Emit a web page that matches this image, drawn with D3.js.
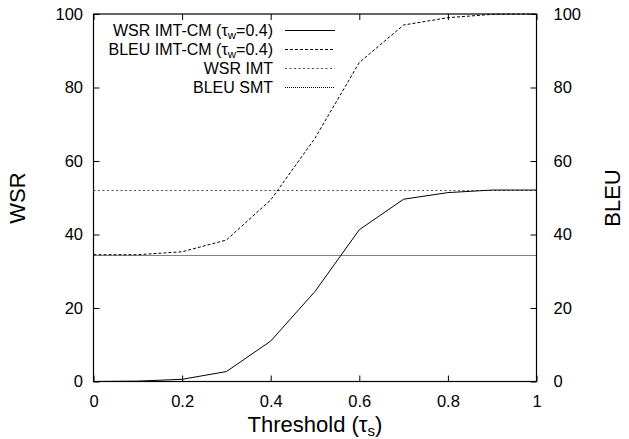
<!DOCTYPE html>
<html>
<head>
<meta charset="utf-8">
<script src="https://cdn.jsdelivr.net/npm/d3@7"></script>
<style>
body { margin: 0; background: #fff; }
svg { font-family: "Liberation Sans", Arial, Helvetica, sans-serif; }
</style>
</head>
<body>
<div id="chart"></div>
<script>
var thresholds = [0, 0.1, 0.2, 0.3, 0.4, 0.5, 0.6, 0.7, 0.8, 0.9, 1];
var wsrImtCm = [0, 0.1, 0.6, 2.7, 11.0, 24.5, 41.3, 49.6, 51.4, 52.1, 52.1];
var bleuImtCm = [34.5, 34.5, 35.3, 38.5, 49.4, 66.2, 86.8, 97.0, 99.0, 99.9, 100];
var wsrImt = 52.1;
var bleuSmt = 34.5;
var xTicks = [0, 0.2, 0.4, 0.6, 0.8, 1];
var yTicks = [0, 20, 40, 60, 80, 100];

function init() {
    var w = 629;
    var h = 439;
    var left = 93.5, right = 536.5, top = 14, bottom = 381.5;

    var svg = d3.select("#chart")
        .append("svg")
        .attr("width", w)
        .attr("height", h);

    var xScale = d3.scaleLinear().domain([0, 1]).range([left, right]);
    var yScale = d3.scaleLinear().domain([0, 100]).range([bottom, top]);
    var snap = function(v){ return Math.round(v) + 0.5; };

    // axes, ticks pointing inward
    var bx = svg.append("g")
        .attr("transform", "translate(0," + bottom + ")")
        .call(d3.axisBottom(xScale).tickValues(xTicks).tickSize(-6).tickPadding(13.5)
            .tickFormat(function(d){ return d3.format("")(d); }));
    var tx = svg.append("g")
        .attr("transform", "translate(0," + top + ")")
        .call(d3.axisTop(xScale).tickValues(xTicks).tickSize(-6).tickFormat(""));
    var ly = svg.append("g")
        .attr("transform", "translate(" + left + ",0)")
        .call(d3.axisLeft(yScale).tickValues(yTicks).tickSize(-6).tickPadding(10.5));
    var ry = svg.append("g")
        .attr("transform", "translate(" + right + ",0)")
        .call(d3.axisRight(yScale).tickValues(yTicks).tickSize(-6).tickPadding(17));

    [bx, tx, ly, ry].forEach(function(g){
        g.select(".domain").remove();
        g.selectAll("text").attr("font-size", "16.5px").attr("fill", "#000")
            .attr("font-family", "Liberation Sans, Arial, sans-serif");
        g.selectAll("line").attr("stroke", "#000");
    });

    svg.append("rect")
        .attr("x", left).attr("y", top)
        .attr("width", right - left).attr("height", bottom - top)
        .attr("fill", "none").attr("stroke", "#000").attr("stroke-width", 1.2);

    var line = d3.line()
        .x(function(d){ return xScale(d[0]); })
        .y(function(d){ return yScale(d[1]); });

    // constant reference lines
    svg.append("line")
        .attr("x1", xScale(0)).attr("x2", xScale(1))
        .attr("y1", snap(yScale(wsrImt))).attr("y2", snap(yScale(wsrImt)))
        .attr("stroke", "#555").attr("stroke-width", 1).attr("stroke-dasharray", "2,2.5");
    svg.append("line")
        .attr("x1", xScale(0)).attr("x2", xScale(1))
        .attr("y1", snap(yScale(bleuSmt))).attr("y2", snap(yScale(bleuSmt)))
        .attr("stroke", "#000").attr("stroke-width", 1).attr("stroke-dasharray", "1,1");

    svg.append("path")
        .datum(d3.zip(thresholds, wsrImtCm))
        .attr("d", line)
        .attr("fill", "none").attr("stroke", "#000").attr("stroke-width", 1);
    svg.append("path")
        .datum(d3.zip(thresholds, bleuImtCm))
        .attr("d", line)
        .attr("fill", "none").attr("stroke", "#000").attr("stroke-width", 1)
        .attr("stroke-dasharray", "3,2");

    // legend
    var legend = [
        {main: "WSR IMT-CM (τ", sub: "w", tail: "=0.4)", dash: null, color: "#000"},
        {main: "BLEU IMT-CM (τ", sub: "w", tail: "=0.4)", dash: "3,2", color: "#000"},
        {main: "WSR IMT", dash: "2,2.5", color: "#555"},
        {main: "BLEU SMT", dash: "1,1", color: "#000"}
    ];
    var lg = svg.selectAll(".leg").data(legend).enter().append("g")
        .attr("class", "leg")
        .attr("transform", function(d, i){ return "translate(0," + (30 + i * 19) + ")"; });
    var lt = lg.append("text")
        .attr("x", 273).attr("y", 6)
        .attr("text-anchor", "end")
        .attr("font-size", "16px");
    lt.append("tspan").text(function(d){ return d.main; });
    lt.filter(function(d){ return d.sub; }).append("tspan")
        .attr("dy", 2.5).attr("font-size", "11.5px").text(function(d){ return d.sub; });
    lt.filter(function(d){ return d.sub; }).append("tspan")
        .attr("dy", -2.5).text(function(d){ return d.tail; });
    lg.append("line")
        .attr("x1", 285).attr("x2", 335).attr("y1", 0.5).attr("y2", 0.5)
        .attr("stroke", function(d){ return d.color; }).attr("stroke-width", 1)
        .attr("stroke-dasharray", function(d){ return d.dash; });

    // axis titles
    svg.append("text")
        .attr("transform", "translate(25,198) rotate(-90)")
        .attr("text-anchor", "middle")
        .attr("font-size", "22px")
        .text("WSR");
    svg.append("text")
        .attr("transform", "translate(620,198) rotate(-90)")
        .attr("text-anchor", "middle")
        .attr("font-size", "22px")
        .text("BLEU");
    var xt = svg.append("text")
        .attr("x", 315).attr("y", 432)
        .attr("text-anchor", "middle")
        .attr("font-size", "22px");
    xt.append("tspan").text("Threshold (τ");
    xt.append("tspan").attr("dy", 4).attr("font-size", "15px").text("s");
    xt.append("tspan").attr("dy", -4).text(")");
}

window.onload = init;
</script>
</body>
</html>
